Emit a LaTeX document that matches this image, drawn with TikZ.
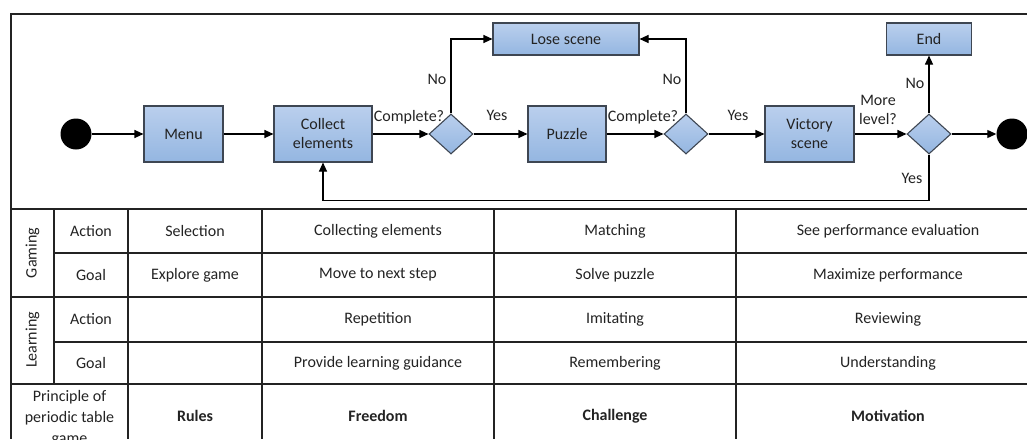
\documentclass[tikz,border=0pt]{standalone}
\usepackage{fontspec}
\setmainfont{Carlito}
\usepackage{tikz}
\usetikzlibrary{shapes.geometric, arrows.meta, positioning}
\definecolor{boxtop}{RGB}{186,207,237}
\definecolor{boxbot}{RGB}{148,182,225}
\definecolor{boxline}{RGB}{62,70,82}
\definecolor{ink}{RGB}{35,35,35}
\tikzset{
  act/.style={draw=boxline, line width=1.1pt, top color=boxtop, bottom color=boxbot,
    align=center, inner sep=2pt, text=ink, font=\fontsize{16}{19}\selectfont},
  dec/.style={diamond, draw=boxline, line width=1.1pt, top color=boxtop, bottom color=boxbot,
    minimum width=44pt, minimum height=40pt, inner sep=0pt},
  dot/.style={circle, fill=black, minimum size=31pt, inner sep=0pt},
  arr/.style={line width=1.1pt, -{Triangle[length=9pt,width=8pt]}},
  lbl/.style={align=center, inner sep=0pt, text=ink, font=\fontsize{16}{19}\selectfont},
  cell/.style={align=center, inner sep=0pt, text=ink, font=\fontsize{16}{21}\selectfont},
  grid/.style={line width=1.1pt, draw=ink},
}

\begin{document}
\begin{tikzpicture}[x=1pt, y=-1pt]
    \useasboundingbox (0,0) rectangle (1027,439);
    \clip (0,0) rectangle (1027,439);

    % activity flow
    \node[dot] (start) at (76,134) {};
    \node[act, minimum width=79pt, minimum height=56pt] (menu) at (183.5,134) {Menu};
    \node[act, minimum width=98pt, minimum height=56pt] (collect) at (323,134) {Collect\\elements};
    \node[dec] (d1) at (451,134) {};
    \node[act, minimum width=78pt, minimum height=56pt] (puzzle) at (567,134) {Puzzle};
    \node[dec] (d2) at (686,134) {};
    \node[act, minimum width=89pt, minimum height=56pt] (victory) at (809.5,134) {Victory\\scene};
    \node[dec] (d3) at (929,134) {};
    \node[dot] (stop) at (1012,134) {};
    \node[act, minimum width=146pt, minimum height=32pt] (lose) at (566,39) {Lose scene};
    \node[act, minimum width=85pt, minimum height=32pt] (endbox) at (929,39) {End};

    \draw[arr] (start) -- (menu);
    \draw[arr] (menu) -- (collect);
    \draw[arr] (collect) -- (d1);
    \draw[arr] (d1) -- (puzzle);
    \draw[arr] (d1.north) |- (lose.west);
    \draw[arr] (puzzle) -- (d2);
    \draw[arr] (d2.north) |- (lose.east);
    \draw[arr] (d2) -- (victory);
    \draw[arr] (victory) -- (d3);
    \draw[arr] (d3.north) -- (endbox.south);
    \draw[arr] (d3) -- (stop);
    \draw[arr] (d3.south) -- ++(0,46) -| (collect.south);

    \node[lbl] (c1) at (409,117) {Complete?};
    \node[lbl] (y1) at (497,115) {Yes};
    \node[lbl] (n1) at (437,79) {No};
    \node[lbl] (c2) at (643,117) {Complete?};
    \node[lbl] (n2) at (672,79) {No};
    \node[lbl] (y2) at (738,115) {Yes};
    \node[lbl] (ml) at (878,110) {More\\level?};
    \node[lbl] (n3) at (915,83) {No};
    \node[lbl] (y3) at (912,178) {Yes};

    % table
    \draw[grid] (1027,14) -- (11,14) -- (11,439);
    \draw[grid] (11,209) -- (1027,209);
    \draw[grid] (54,253) -- (1027,253);
    \draw[grid] (11,297) -- (1027,297);
    \draw[grid] (54,342) -- (1027,342);
    \draw[grid] (11,384) -- (1027,384);
    \draw[grid] (54,209) -- (54,384);
    \draw[grid] (128,209) -- (128,439);
    \draw[grid] (262,209) -- (262,439);
    \draw[grid] (494,209) -- (494,439);
    \draw[grid] (736,209) -- (736,439);

    \node[cell, rotate=90] (gaming) at (32.5,253) {Gaming};
    \node[cell, rotate=90] (learning) at (32.5,340) {Learning};

    \node[cell] (ga) at (91,231) {Action};
    \node[cell] (ga1) at (195,231) {Selection};
    \node[cell] (ga2) at (378,231) {Collecting elements};
    \node[cell] (ga3) at (615,231) {Matching};
    \node[cell] (ga4) at (888,231) {See performance evaluation};

    \node[cell] (gg) at (91,275) {Goal};
    \node[cell] (gg1) at (195,275) {Explore game};
    \node[cell] (gg2) at (378,275) {Move to next step};
    \node[cell] (gg3) at (615,275) {Solve puzzle};
    \node[cell] (gg4) at (888,275) {Maximize performance};

    \node[cell] (la) at (91,319.5) {Action};
    \node[cell] (la2) at (378,319.5) {Repetition};
    \node[cell] (la3) at (615,319.5) {Imitating};
    \node[cell] (la4) at (888,319.5) {Reviewing};

    \node[cell] (lg) at (91,363) {Goal};
    \node[cell] (lg2) at (378,363) {Provide learning guidance};
    \node[cell] (lg3) at (615,363) {Remembering};
    \node[cell] (lg4) at (888,363) {Understanding};

    \node[cell] (pr) at (69.5,418) {Principle of\\periodic table\\game};
    \node[cell] (pr1) at (195,416) {\textbf{Rules}};
    \node[cell] (pr2) at (378,416) {\textbf{Freedom}};
    \node[cell] (pr3) at (615,416) {\textbf{Challenge}};
    \node[cell] (pr4) at (888,416) {\textbf{Motivation}};
\end{tikzpicture}
\end{document}
